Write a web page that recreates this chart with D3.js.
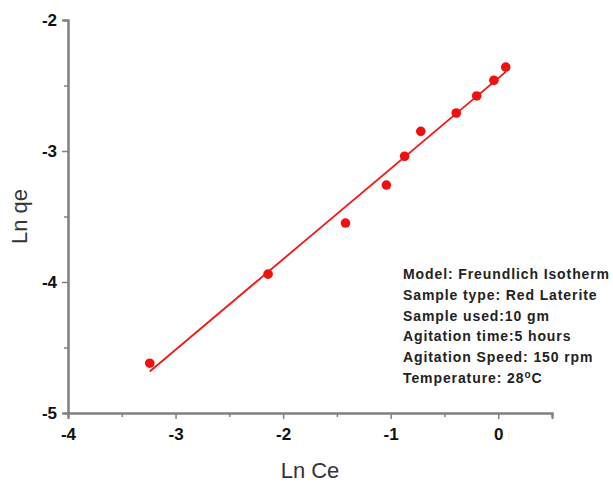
<!DOCTYPE html>
<html>
<head>
<meta charset="utf-8">
<script src="https://cdn.jsdelivr.net/npm/d3@7"></script>
<style>
  body { margin: 0; background: #fff; }
  svg { display: block; }
</style>
</head>
<body>
<script>
// Freundlich isotherm: Ln Ce vs Ln qe
const lnCe = [-3.24, -2.14, -1.42, -1.04, -0.87, -0.72, -0.39, -0.2, -0.04, 0.07];
const lnQe = [-4.62, -3.94, -3.55, -3.26, -3.04, -2.85, -2.71, -2.58, -2.46, -2.36];

// fitted line
const fitX = [-3.24, 0.07];
const fitSlope = 0.691;
const fitIntercept = -2.444;

const xTicks = [-4, -3, -2, -1, 0];
const yTicks = [-2, -3, -4, -5];
const xMinor = [-3.5, -2.5, -1.5, -0.5, 0.5];
const yMinor = [-2.5, -3.5, -4.5];

const infoLines = [
    "Model: Freundlich Isotherm",
    "Sample type: Red Laterite",
    "Sample used:10 gm",
    "Agitation time:5 hours",
    "Agitation Speed: 150 rpm"
];

const width = 613;
const height = 486;
const margin = {top: 20, right: 61, bottom: 73, left: 68};

const svg = d3.select("body")
              .append("svg")
              .attr("width", width)
              .attr("height", height)
              .style("font-family", "'Liberation Sans', Arial, sans-serif");

const x = d3.scaleLinear().domain([-4, 0.5]).range([margin.left, width - margin.right]);
const y = d3.scaleLinear().domain([-5, -2]).range([height - margin.bottom, margin.top]);

const axisColor = "#808080";

function styleAxis(g) {
    g.select(".domain").attr("stroke", axisColor).attr("stroke-width", 2);
    g.selectAll(".tick line").attr("stroke", axisColor).attr("stroke-width", 1.5);
    g.selectAll(".tick text")
     .attr("fill", "#111")
     .style("font-size", "17px")
     .style("font-weight", "bold");
}

// minor ticks first
svg.append("g")
   .attr("transform", "translate(0," + y(-5) + ")")
   .call(d3.axisBottom(x).tickValues(xMinor).tickSize(4).tickFormat(""))
   .call(styleAxis);

svg.append("g")
   .attr("transform", "translate(" + x(-4) + ",0)")
   .call(d3.axisLeft(y).tickValues(yMinor).tickSize(4).tickFormat(""))
   .call(styleAxis);

svg.append("g")
   .attr("transform", "translate(0," + y(-5) + ")")
   .call(d3.axisBottom(x).tickValues(xTicks).tickSize(6).tickPadding(9).tickFormat(d => String(d)))
   .call(styleAxis);

svg.append("g")
   .attr("transform", "translate(" + x(-4) + ",0)")
   .call(d3.axisLeft(y).tickValues(yTicks).tickSize(6).tickPadding(5).tickFormat(d => String(d)))
   .call(styleAxis);

// axis titles
svg.append("text")
   .attr("x", (margin.left + width - margin.right) / 2)
   .attr("y", 478)
   .attr("text-anchor", "middle")
   .style("font-size", "22px")
   .attr("fill", "#333")
   .text("Ln Ce");

svg.append("text")
   .attr("transform", "translate(27," + (margin.top + height - margin.bottom) / 2 + ") rotate(-90)")
   .attr("text-anchor", "middle")
   .style("font-size", "22px")
   .attr("fill", "#333")
   .text("Ln qe");

// fit line
const line = d3.line()
               .x(d => x(d))
               .y(d => y(fitIntercept + fitSlope * d));

svg.append("path")
   .datum(fitX)
   .attr("d", line)
   .attr("fill", "none")
   .attr("stroke", "#f01818")
   .attr("stroke-width", 1.8);

svg.selectAll("circle.pt")
   .data(lnCe)
   .enter()
   .append("circle")
   .attr("class", "pt")
   .attr("cx", d => x(d))
   .attr("cy", (d, i) => y(lnQe[i]))
   .attr("r", 4.8)
   .attr("fill", "#f01010");

// info text
const info = svg.append("g")
                .style("font-size", "14px")
                .style("font-weight", "bold")
                .style("letter-spacing", "0.9px")
                .attr("fill", "#222");

info.selectAll("text.line")
    .data(infoLines)
    .enter()
    .append("text")
    .attr("class", "line")
    .attr("x", 403)
    .attr("y", (d, i) => 279 + i * 20.8)
    .text(d => d);

const temp = info.append("text")
                 .attr("x", 403)
                 .attr("y", 279 + 5 * 20.8);
temp.append("tspan").text("Temperature: 28");
temp.append("tspan").attr("dy", -5).style("font-size", "10px").text("o");
temp.append("tspan").attr("dy", 5).text("C");
</script>
</body>
</html>
